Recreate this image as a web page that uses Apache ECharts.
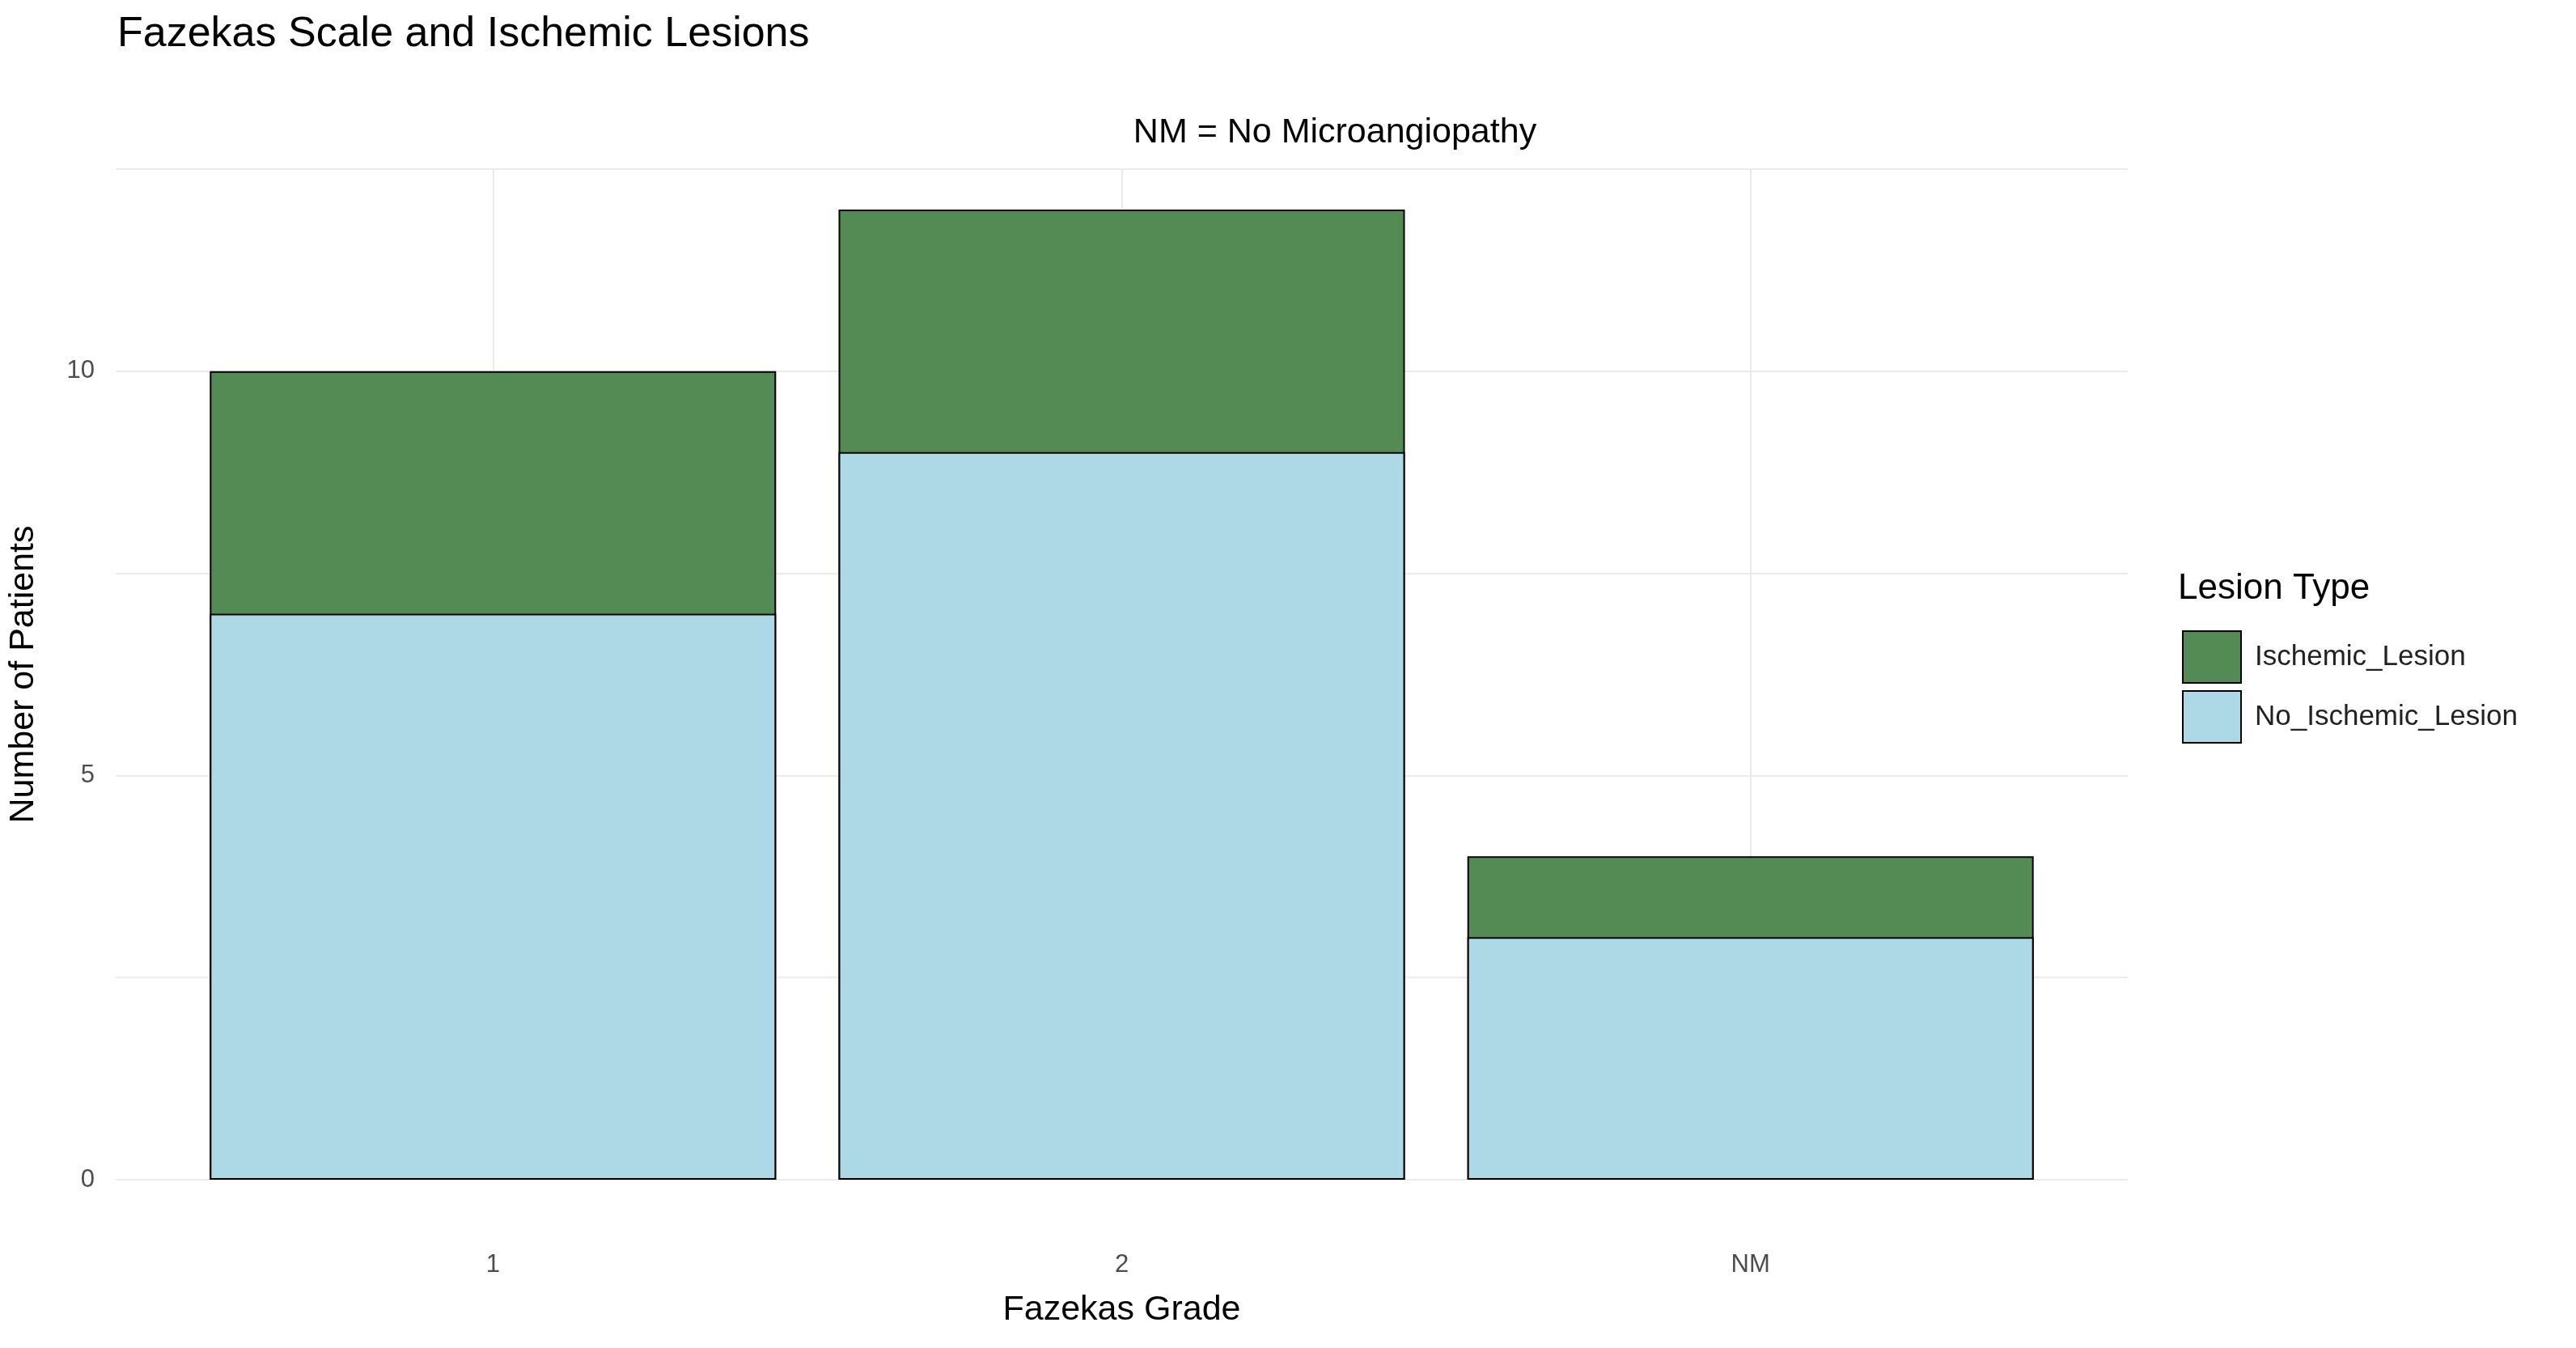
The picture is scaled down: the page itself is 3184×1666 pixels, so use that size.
<!DOCTYPE html>
<html><head><meta charset="utf-8">
<script src="https://cdn.jsdelivr.net/npm/echarts@6/dist/echarts.min.js"></script>
<style>html,body{margin:0;padding:0;background:#fff}#c{width:3184px;height:1666px}</style>
</head><body><div id="c"></div>
<script>
const categories = ['1', '2', 'NM'];
const positions = [1, 2, 3];
const noIschemic = [7, 9, 3];
const ischemic = [3, 3, 1];
const yTicks = [0, 5, 10];

const totals = noIschemic.map((v, i) => v + ischemic[i]);
const chart = echarts.init(document.getElementById('c'));
const font = 'Liberation Sans, Arial, sans-serif';
function catLabel(v){ for (let i=0;i<positions.length;i++) if (Math.abs(v-positions[i])<1e-6) return categories[i]; return ''; }
const vlines = positions.map(p => ({xAxis: p}));
chart.setOption({
  animation: false,
  textStyle: {fontFamily: font},
  title: [
    {text: 'Fazekas Scale and Ischemic Lesions', left: 140, top: 12, textStyle: {fontSize: 52, fontWeight: 'normal', color: '#000', fontFamily: font}},
    {text: 'NM = No Microangiopathy', left: 1645, top: 138, textAlign: 'center', textStyle: {fontSize: 43, fontWeight: 'normal', color: '#000', fontFamily: font}}
  ],
  grid: {left: 142, right: 554, top: 209, bottom: 208},
  legend: {
    data: ['Ischemic_Lesion', 'No_Ischemic_Lesion'], orient: 'vertical', left: 2692, top: 774,
    itemWidth: 72, itemHeight: 64, itemGap: 8, icon: 'rect',
    textStyle: {fontSize: 35, color: '#222', fontFamily: font, padding: [0,0,0,12]}
  },
  graphic: [{type: 'text', left: 2692, top: 706, style: {text: 'Lesion Type', font: '44px ' + font, fill: '#000'}}],
  xAxis: {
    type: 'value', min: 0.4, max: 3.6, interval: 0.2,
    name: 'Fazekas Grade', nameLocation: 'middle', nameGap: 140,
    nameTextStyle: {fontSize: 43, color: '#000'},
    axisLine: {show: false}, axisTick: {show: false}, splitLine: {show: false},
    axisLabel: {formatter: catLabel, fontSize: 31, color: '#4d4d4d', margin: 90, showMinLabel: false, showMaxLabel: false}
  },
  yAxis: {
    type: 'value', min: 0, max: 12.5, interval: 2.5,
    name: 'Number of Patients', nameLocation: 'middle', nameGap: 92,
    nameTextStyle: {fontSize: 43, color: '#000'},
    axisLine: {show: false}, axisTick: {show: false},
    axisLabel: {formatter: v => yTicks.includes(v) ? String(v) : '', fontSize: 31, color: '#4d4d4d', margin: 26},
    splitLine: {lineStyle: {color: '#ebebeb', width: 2}}
  },
  series: [
    {name: 'Ischemic_Lesion', type: 'bar', barWidth: 700, barGap: '-100%',
     data: positions.map((p,i)=>[p, totals[i]]),
     itemStyle: {color: '#548b54', borderColor: '#000', borderWidth: 2},
     markLine: {silent: true, symbol: 'none', label: {show: false}, z: 0,
       lineStyle: {color: '#ebebeb', width: 2, type: 'solid'}, data: vlines}, z: 2},
    {name: 'No_Ischemic_Lesion', type: 'bar', barWidth: 700, barGap: '-100%',
     data: positions.map((p,i)=>[p, noIschemic[i]]),
     itemStyle: {color: '#add8e6', borderColor: '#000', borderWidth: 2}, z: 3}
  ]
});
</script></body></html>
